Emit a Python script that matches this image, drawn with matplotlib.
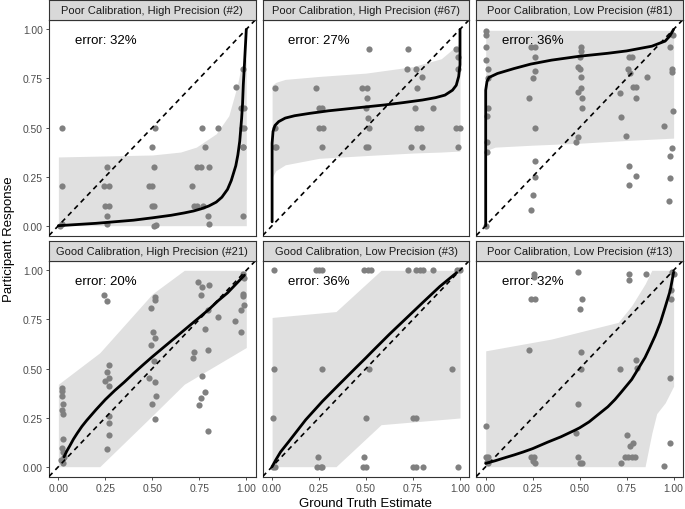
import matplotlib
matplotlib.use('Agg')
import matplotlib.pyplot as plt

plt.rcParams['font.family'] = ['Liberation Sans', 'DejaVu Sans']

titles = ["Poor Calibration, High Precision (#2)",
          "Poor Calibration, High Precision (#67)",
          "Poor Calibration, Low Precision (#81)",
          "Good Calibration, High Precision (#21)",
          "Good Calibration, Low Precision (#3)",
          "Poor Calibration, Low Precision (#13)"]
errors = ["error: 32%", "error: 27%", "error: 36%",
          "error: 20%", "error: 36%", "error: 32%"]
tick_vals = [0.0, 0.25, 0.5, 0.75, 1.0]
tick_labels = ["0.00", "0.25", "0.50", "0.75", "1.00"]

# ---------------- Panel 1 (#2) ----------------
p1_x = [0.02, 0.02, 0.02, 0.01, 0.26, 0.245, 0.27, 0.25, 0.27, 0.26, 0.26,
        0.515, 0.50, 0.51, 0.48, 0.50, 0.50, 0.51, 0.51, 0.52,
        0.766, 0.85, 0.78, 0.74, 0.76, 0.80, 0.71, 0.72, 0.74, 0.77, 0.795, 0.80,
        0.944, 0.984, 0.97, 0.99, 0.975, 0.99, 0.98, 0.985, 0.98]
p1_y = [0.50, 0.20, 0.01, 0.0, 0.30, 0.20, 0.20, 0.10, 0.10, 0.05, 0.01,
        0.50, 0.40, 0.30, 0.20, 0.20, 0.10, 0.10, 0.0, 0.005,
        0.50, 0.50, 0.40, 0.30, 0.30, 0.30, 0.20, 0.10, 0.10, 0.10, 0.05, 0.01,
        0.705, 0.80, 0.60, 0.60, 0.50, 0.50, 0.40, 0.40, 0.05]
p1_cx = [0.0, 0.1, 0.2, 0.3, 0.4, 0.5, 0.6, 0.67, 0.72, 0.76, 0.8, 0.84, 0.87, 0.9,
         0.92, 0.944, 0.955, 0.965, 0.975, 0.98, 0.984, 0.99, 0.995, 1.0]
p1_cy = [0.0, 0.006, 0.012, 0.02, 0.028, 0.04, 0.053, 0.065, 0.075, 0.086, 0.1, 0.12,
         0.145, 0.185, 0.23, 0.305, 0.36, 0.43, 0.545, 0.62, 0.717, 0.82, 0.91, 1.0]
p1_bx = [0.0, 0.25, 0.5, 0.65, 0.734, 0.84, 0.907, 0.953, 0.97, 1.0]
p1_lo = [0.0, 0.0, 0.0, 0.0, 0.0, 0.0, 0.0, 0.0, 0.0, 0.0]
p1_hi = [0.35, 0.355, 0.36, 0.375, 0.40, 0.468, 0.56, 0.717, 0.80, 0.85]

# ---------------- Panel 2 (#67) ----------------
p2_x = [0.518, 0.723, 0.98, 0.99, 0.99, 0.72, 0.764, 0.80,
        0.014, 0.236, 0.48, 0.505, 0.77, 0.505,
        0.25, 0.268, 0.50, 0.76, 0.857, 0.509,
        0.014, 0.25, 0.27, 0.518, 0.77, 0.79, 0.98, 1.0,
        0.014, 0.02, 0.268, 0.50, 0.51, 0.74, 0.80, 0.99]
p2_y = [0.90, 0.90, 0.90, 0.86, 0.80, 0.80, 0.80, 0.756,
        0.70, 0.70, 0.70, 0.70, 0.70, 0.65,
        0.60, 0.60, 0.60, 0.60, 0.60, 0.55,
        0.50, 0.50, 0.50, 0.50, 0.50, 0.50, 0.50, 0.50,
        0.40, 0.40, 0.40, 0.40, 0.40, 0.40, 0.40, 0.40]
p2_cx = [0.0, 0.0, 0.005, 0.015, 0.035, 0.07, 0.12, 0.2, 0.3, 0.4, 0.5, 0.6, 0.7,
         0.8, 0.87, 0.92, 0.96, 0.98, 0.993, 1.0, 1.0]
p2_cy = [0.02, 0.42, 0.48, 0.51, 0.53, 0.548, 0.56, 0.572, 0.585, 0.595, 0.605, 0.615,
         0.627, 0.64, 0.652, 0.665, 0.69, 0.715, 0.76, 0.82, 1.0]
p2_bx = [0.0, 0.02, 0.07, 0.25, 0.5, 0.75, 0.9, 1.0]
p2_lo = [0.245, 0.28, 0.31, 0.343, 0.357, 0.37, 0.375, 0.38]
p2_hi = [0.715, 0.73, 0.745, 0.76, 0.777, 0.81, 0.85, 0.93]

# ---------------- Panel 3 (#81) ----------------
p3_x = [0.0, 0.003, 0.003, 0.003, 0.01, 0.013, 0.013, 0.006, 0.006, 0.006, 0.003,
        0.24, 0.26, 0.26, 0.26, 0.25, 0.23, 0.26, 0.26, 0.26, 0.25, 0.24,
        0.505, 0.505, 0.50, 0.49, 0.50, 0.505, 0.505, 0.49, 0.51, 0.51, 0.49, 0.48,
        0.76, 0.78, 0.755, 0.77, 0.857, 0.786, 0.80, 0.714, 0.80, 0.718, 0.746, 0.76, 0.80, 0.76,
        0.995, 0.98, 0.99, 0.99, 0.995, 0.95, 0.99, 0.98, 0.98, 0.977]
p3_y = [0.99, 0.97, 0.91, 0.846, 0.80, 0.75, 0.60, 0.56, 0.425, 0.374, 0.0,
        0.91, 0.91, 0.858, 0.79, 0.75, 0.65, 0.50, 0.33, 0.25, 0.155, 0.08,
        0.91, 0.89, 0.858, 0.81, 0.80, 0.755, 0.703, 0.68, 0.65, 0.60, 0.45, 0.425,
        0.858, 0.858, 0.80, 0.78, 0.755, 0.705, 0.705, 0.678, 0.65, 0.554, 0.456, 0.305, 0.254, 0.206,
        0.97, 0.91, 0.80, 0.785, 0.585, 0.506, 0.394, 0.353, 0.242, 0.125]
p3_cx = [0.0, 0.0, 0.007, 0.018, 0.0625, 0.15, 0.24, 0.35, 0.5, 0.65, 0.75, 0.884, 0.955, 0.98, 1.0]
p3_cy = [0.0, 0.69, 0.735, 0.755, 0.775, 0.80, 0.823, 0.843, 0.863, 0.878, 0.89, 0.914, 0.94, 0.966, 1.0]
p3_bx = [0.0, 0.01, 0.05, 0.25, 0.5, 0.75, 1.0]
p3_lo = [0.36, 0.385, 0.40, 0.41, 0.42, 0.434, 0.446]
p3_hi = [0.995, 0.995, 0.995, 0.995, 0.995, 0.995, 0.995]

# ---------------- Panel 4 (#21) ----------------
p4_x = [0.02, 0.017, 0.017, 0.022, 0.017, 0.026, 0.022, 0.017, 0.026, 0.03, 0.012, 0.022,
        0.241, 0.257, 0.267, 0.257, 0.27, 0.25, 0.267, 0.27, 0.267, 0.27, 0.257,
        0.512, 0.512, 0.495, 0.503, 0.516, 0.495, 0.507, 0.48, 0.512, 0.52, 0.498, 0.512,
        0.743, 0.766, 0.804, 0.76, 0.795, 0.851, 0.78, 0.795, 0.722, 0.717, 0.764, 0.778,
        0.76, 0.748, 0.795,
        0.98, 0.99, 0.98, 0.985, 0.99, 0.97, 0.94, 0.97]
p4_y = [0.40, 0.385, 0.36, 0.32, 0.29, 0.27, 0.14, 0.094, 0.077, 0.048, 0.034, 0.017,
        0.872, 0.843, 0.52, 0.482, 0.453, 0.436, 0.41, 0.26, 0.222, 0.162, 0.09,
        0.863, 0.85, 0.81, 0.684, 0.653, 0.62, 0.54, 0.453, 0.432, 0.36, 0.32, 0.243,
        0.94, 0.915, 0.927, 0.872, 0.80, 0.76, 0.70, 0.593, 0.585, 0.556, 0.462, 0.38,
        0.35, 0.313, 0.18,
        0.983, 0.96, 0.88, 0.87, 0.824, 0.80, 0.744, 0.684]
p4_cx = [0.03, 0.045, 0.06, 0.08, 0.1, 0.125, 0.15, 0.2, 0.25, 0.3, 0.35, 0.4, 0.45,
         0.5, 0.55, 0.6, 0.65, 0.7, 0.75, 0.8, 0.85, 0.9, 0.93, 0.96, 0.99]
p4_cy = [0.05, 0.08, 0.105, 0.14, 0.17, 0.205, 0.235, 0.29, 0.342, 0.388, 0.43, 0.475,
         0.518, 0.56, 0.6, 0.64, 0.68, 0.72, 0.76, 0.8, 0.845, 0.885, 0.915, 0.945, 0.975]
p4_bx = [0.0, 0.22, 0.5, 0.67, 1.0]
p4_lo = [0.0, 0.0, 0.26, 0.42, 0.607]
p4_hi = [0.42, 0.58, 0.88, 1.0, 1.0]

# ---------------- Panel 5 (#3) ----------------
p5_x = [0.009, 0.232, 0.25, 0.268, 0.49, 0.509, 0.527, 0.723, 0.768, 0.786, 0.804, 0.857, 0.982, 1.0,
        0.009, 0.268, 0.518, 0.955,
        0.005, 0.50, 0.75, 0.768,
        0.246, 0.49,
        0.004, 0.018, 0.241, 0.259, 0.268, 0.482, 0.50, 0.75, 0.768, 0.804, 0.991]
p5_y = [1.0, 1.0, 1.0, 1.0, 1.0, 1.0, 1.0, 1.0, 1.0, 1.0, 1.0, 1.0, 1.0, 1.0,
        0.50, 0.50, 0.50, 0.50,
        0.25, 0.25, 0.25, 0.25,
        0.05, 0.05,
        0.0, 0.0, 0.0, 0.0, 0.0, 0.0, 0.0, 0.0, 0.0, 0.0, 0.0]
p5_cx = [0.0, 0.02, 0.045, 0.089, 0.179, 0.268, 0.357, 0.446, 0.5, 0.536, 0.625, 0.714,
         0.804, 0.893, 0.982]
p5_cy = [0.0, 0.035, 0.075, 0.128, 0.239, 0.333, 0.419, 0.504, 0.555, 0.59, 0.675, 0.756,
         0.838, 0.918, 0.988]
p5_bx = [0.0, 0.34, 0.58, 1.0]
p5_lo = [0.0, 0.0, 0.214, 0.248]
p5_hi = [0.76, 0.79, 1.0, 1.0]

# ---------------- Panel 6 (#13) ----------------
p6_x = [0.259, 0.255, 0.491, 0.764, 0.764, 0.854, 0.99, 1.0,
        0.241, 0.262, 0.512, 0.50, 0.987, 0.987,
        0.232, 0.505, 0.80, 0.804, 0.714, 0.505, 0.979,
        0.491, 0.004, 0.482, 0.75, 0.786, 0.768, 0.979,
        0.741, 0.759, 0.777, 0.795, 0.241, 0.259, 0.25, 0.262, 0.491, 0.50, 0.51,
        0.718, 0.95, 0.0, 0.0125, 0.005, 0.01]
p6_y = [0.983, 0.965, 0.991, 0.983, 0.95, 0.983, 0.99, 0.98,
        0.855, 0.855, 0.855, 0.803, 0.90, 0.855,
        0.595, 0.585, 0.542, 0.504, 0.50, 0.50, 0.453,
        0.321, 0.205, 0.171, 0.162, 0.123, 0.103, 0.123,
        0.051, 0.051, 0.051, 0.051, 0.051, 0.051, 0.029, 0.017, 0.051, 0.02, 0.017,
        0.017, 0.005, 0.051, 0.051, 0.026, 0.017]
p6_cx = [0.0, 0.05, 0.1, 0.152, 0.2, 0.25, 0.33, 0.4, 0.473, 0.5, 0.55, 0.598, 0.65,
         0.688, 0.72, 0.777, 0.8, 0.848, 0.87, 0.902, 0.93, 0.955, 0.982, 1.0]
p6_cy = [0.017, 0.03, 0.045, 0.06, 0.075, 0.092, 0.125, 0.152, 0.185, 0.198, 0.228, 0.265,
         0.305, 0.342, 0.378, 0.444, 0.48, 0.556, 0.6, 0.667, 0.735, 0.812, 0.897, 0.99]
p6_bx = [0.0, 0.35, 0.705, 0.777, 0.848, 0.884, 0.91, 0.955, 1.0]
p6_lo = [0.0, 0.0, 0.0, 0.0, 0.0, 0.17, 0.27, 0.325, 0.41]
p6_hi = [0.59, 0.65, 0.735, 0.82, 0.93, 1.0, 1.0, 1.0, 1.0]

panels = [
    (p1_x, p1_y, p1_cx, p1_cy, p1_bx, p1_lo, p1_hi),
    (p2_x, p2_y, p2_cx, p2_cy, p2_bx, p2_lo, p2_hi),
    (p3_x, p3_y, p3_cx, p3_cy, p3_bx, p3_lo, p3_hi),
    (p4_x, p4_y, p4_cx, p4_cy, p4_bx, p4_lo, p4_hi),
    (p5_x, p5_y, p5_cx, p5_cy, p5_bx, p5_lo, p5_hi),
    (p6_x, p6_y, p6_cx, p6_cy, p6_bx, p6_lo, p6_hi),
]

W, H = 685, 510
fig = plt.figure(figsize=(W / 100, H / 100), dpi=100)

col_left = [49, 262.7, 476.3]
col_w = 206.7
row_top = [20.5, 261.5]
row_h = 216
strip_h = 19.5

border = '#333333'
for i, (px, py, cx, cy, bx, lo, hi) in enumerate(panels):
    r, c = divmod(i, 3)
    l = col_left[c]
    t = row_top[r]
    ax = fig.add_axes([l / W, 1 - (t + row_h) / H, col_w / W, row_h / H])
    ax.set_xlim(-0.05, 1.05)
    ax.set_ylim(-0.05, 1.05)
    ax.fill_between(bx, lo, hi, color='#E0E0E0', lw=0, zorder=1)
    ax.scatter(px, py, s=20, color='#808080', lw=0, zorder=2)
    ax.axline((0, 0), (1, 1), color='black', lw=1.2, dashes=(3, 2.5), zorder=3)
    ax.plot(cx, cy, color='black', lw=2.0, solid_capstyle='round',
            solid_joinstyle='round', zorder=4)
    ax.text(0.25, 0.945, errors[i], ha='center', va='center', fontsize=9.5,
            color='black', zorder=5)
    for s in ax.spines.values():
        s.set_color(border)
        s.set_linewidth(0.8)
    ax.set_xticks(tick_vals)
    ax.set_yticks(tick_vals)
    ax.tick_params(length=2.5, width=0.6, color=border, labelcolor='#4D4D4D',
                   labelsize=7.4, pad=2)
    if c == 0:
        ax.set_yticklabels(tick_labels)
    else:
        ax.tick_params(axis='y', left=False, labelleft=False)
    if r == 1:
        ax.set_xticklabels(tick_labels)
    else:
        ax.tick_params(axis='x', bottom=False, labelbottom=False)

    sax = fig.add_axes([l / W, 1 - t / H, col_w / W, strip_h / H])
    sax.set_facecolor('#D9D9D9')
    sax.set_xticks([])
    sax.set_yticks([])
    for s in sax.spines.values():
        s.set_color(border)
        s.set_linewidth(0.8)
    sax.text(0.5, 0.5, titles[i], ha='center', va='center', fontsize=8,
             color='#1A1A1A', transform=sax.transAxes)

fig.text(9 / W, 1 - 239 / H, "Participant Response", rotation=90,
         ha='center', va='center', fontsize=9.5)
fig.text(366 / W, 1 - 504 / H, "Ground Truth Estimate", ha='center',
         va='center', fontsize=9.5)

fig.savefig('out.png', dpi=100)
